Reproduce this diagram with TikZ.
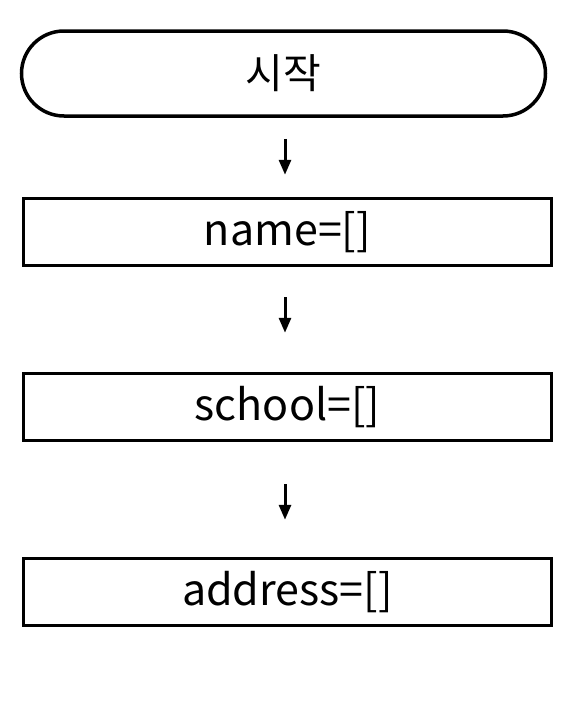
\documentclass[tikz,border=0pt]{standalone}
\usepackage{fontspec}
\setmainfont{Noto Sans CJK KR}
\usetikzlibrary{arrows.meta,shapes.misc}
\begin{document}
\begin{tikzpicture}[x=1pt,y=-1pt,
  box/.style={draw=black,line width=3.5pt,minimum width=528pt,minimum height=67pt,inner sep=0pt,font=\fontsize{43}{45}\selectfont},
  term/.style={draw=black,line width=3.5pt,rounded rectangle,minimum width=524pt,minimum height=85pt,inner sep=0pt,font=\fontsize{41}{43}\selectfont},
  arr/.style={line width=3pt,-{Triangle[length=15pt,width=12pt]}}]
\useasboundingbox (0,0) rectangle (568,704);
\node[term] (s) at (283.5,73.5) {시작};
\node[box] (n) at (287.5,232) {name=[]};
\node[box] (sc) at (287.5,407) {school=[]};
\node[box] (ad) at (287.5,592) {address=[]};
\coordinate (ax) at (285,0);
\draw[arr,shorten <=21pt,shorten >=22pt] (s.south -| ax) -- (n.north -| ax);
\draw[arr,shorten <=30pt,shorten >=39pt] (n.south -| ax) -- (sc.north -| ax);
\draw[arr,shorten <=42pt,shorten >=37pt] (sc.south -| ax) -- (ad.north -| ax);
\end{tikzpicture}
\end{document}
